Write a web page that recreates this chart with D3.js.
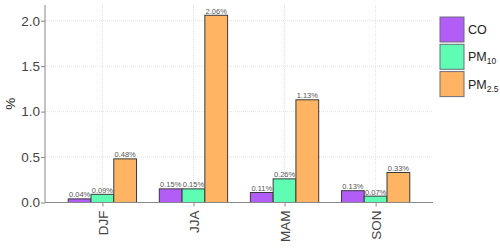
<!DOCTYPE html>
<html>
<head>
<meta charset="utf-8">
<script src="https://cdn.jsdelivr.net/npm/d3@7"></script>
<style>
  body { margin: 0; background: #fff; }
  text { font-family: "Liberation Sans", Arial, sans-serif; }
</style>
</head>
<body>
<svg id="pic" width="500" height="248"></svg>
<script>
var seasons = ["DJF", "JJA", "MAM", "SON"];
var pollutants = ["CO", "PM10", "PM2.5"];
var co = [0.04, 0.15, 0.11, 0.13];
var pm10 = [0.09, 0.15, 0.26, 0.07];
var pm25 = [0.48, 2.06, 1.13, 0.33];
var yTicks = [0, 0.5, 1.0, 1.5, 2.0];

var series = [co, pm10, pm25];
var colors = ["#b15df6", "#5ffdb3", "#feb463"];

var svg = d3.select("#pic");
var pLeft = 45, pRight = 433, pTop = 5, pBottom = 202.5;

var x = d3.scalePoint().domain(seasons).range([pLeft, pRight]).padding(0.63);
var step = x.step();
var inner = d3.scaleBand().domain(pollutants).range([-step * 0.375, step * 0.375]);
var y = d3.scaleLinear().domain([0, 2.173]).range([pBottom, pTop]);

// grid
var grid = svg.append("g");
grid.selectAll(".hg").data(yTicks.slice(1)).enter().append("line")
  .attr("x1", pLeft).attr("x2", pRight)
  .attr("y1", function(d){ return y(d); }).attr("y2", function(d){ return y(d); })
  .attr("stroke", "#d9d9d9").attr("stroke-width", 0.8).attr("stroke-dasharray", "1,1");
grid.selectAll(".vg").data(seasons).enter().append("line")
  .attr("x1", function(d){ return x(d); }).attr("x2", function(d){ return x(d); })
  .attr("y1", pTop).attr("y2", pBottom)
  .attr("stroke", "#d9d9d9").attr("stroke-width", 0.8).attr("stroke-dasharray", "1,1");

// bars
var rows = [];
seasons.forEach(function(s, i){
  pollutants.forEach(function(p, j){
    rows.push({s: s, p: p, v: series[j][i], c: colors[j]});
  });
});

svg.append("g").selectAll("rect").data(rows).enter().append("rect")
  .attr("x", function(d){ return x(d.s) + inner(d.p); })
  .attr("width", inner.bandwidth())
  .attr("y", function(d){ return y(d.v); })
  .attr("height", function(d){ return y(0) - y(d.v); })
  .attr("fill", function(d){ return d.c; })
  .attr("stroke", "#3a3a3a").attr("stroke-width", 1);

svg.append("g").selectAll("text").data(rows).enter().append("text")
  .attr("x", function(d){ return x(d.s) + inner(d.p) + inner.bandwidth() / 2; })
  .attr("y", function(d){ return y(d.v) - 1.5; })
  .attr("text-anchor", "middle")
  .attr("font-size", 7.5).attr("fill", "#555")
  .text(function(d){ return d.v.toFixed(2) + "%"; });

// axes
var yAxis = svg.append("g").attr("transform", "translate(" + pLeft + ",0)")
  .call(d3.axisLeft(y).tickValues(yTicks).tickFormat(d3.format(".1f")).tickSize(4).tickSizeOuter(0));
yAxis.select(".domain").attr("d", "M0," + pTop + "V" + pBottom).attr("stroke", "#888");
yAxis.selectAll(".tick line").attr("stroke", "#888");
yAxis.selectAll(".tick text").attr("font-size", 13.5).attr("fill", "#444")
  .attr("font-family", "Liberation Sans, Arial, sans-serif").attr("x", -5);

var xAxis = svg.append("g").attr("transform", "translate(0," + pBottom + ")")
  .call(d3.axisBottom(x).tickSize(4).tickSizeOuter(0));
xAxis.select(".domain").attr("d", "M" + pLeft + ",0H" + pRight).attr("stroke", "#888");
xAxis.selectAll(".tick line").attr("stroke", "#888");
xAxis.selectAll(".tick text").attr("font-size", 13.5).attr("fill", "#444")
  .attr("font-family", "Liberation Sans, Arial, sans-serif")
  .attr("transform", "rotate(-90)")
  .attr("x", -8).attr("y", 0).attr("dy", "0.35em")
  .attr("text-anchor", "end");

svg.append("text")
  .attr("transform", "translate(15," + ((pTop + pBottom) / 2) + ") rotate(-90)")
  .attr("text-anchor", "middle").attr("font-size", 13.5).attr("fill", "#222")
  .text("%");

// legend
var leg = svg.append("g").attr("transform", "translate(440,17)");
var items = leg.selectAll("g").data(pollutants).enter().append("g")
  .attr("transform", function(d, i){ return "translate(0," + (i * 27.3) + ")"; });
items.append("rect").attr("width", 24).attr("height", 25)
  .attr("fill", function(d, i){ return colors[i]; })
  .attr("stroke", "#6b6d7d").attr("stroke-width", 1);
var lt = items.append("text").attr("x", 28).attr("y", 17)
  .attr("font-size", 12.5).attr("fill", "#222");
lt.each(function(d){
  var t = d3.select(this);
  if (d === "CO") { t.text("CO"); return; }
  t.append("tspan").text("PM");
  t.append("tspan").attr("font-size", 8.5).attr("dy", 3).text(d.slice(2));
});
</script>
</body>
</html>
